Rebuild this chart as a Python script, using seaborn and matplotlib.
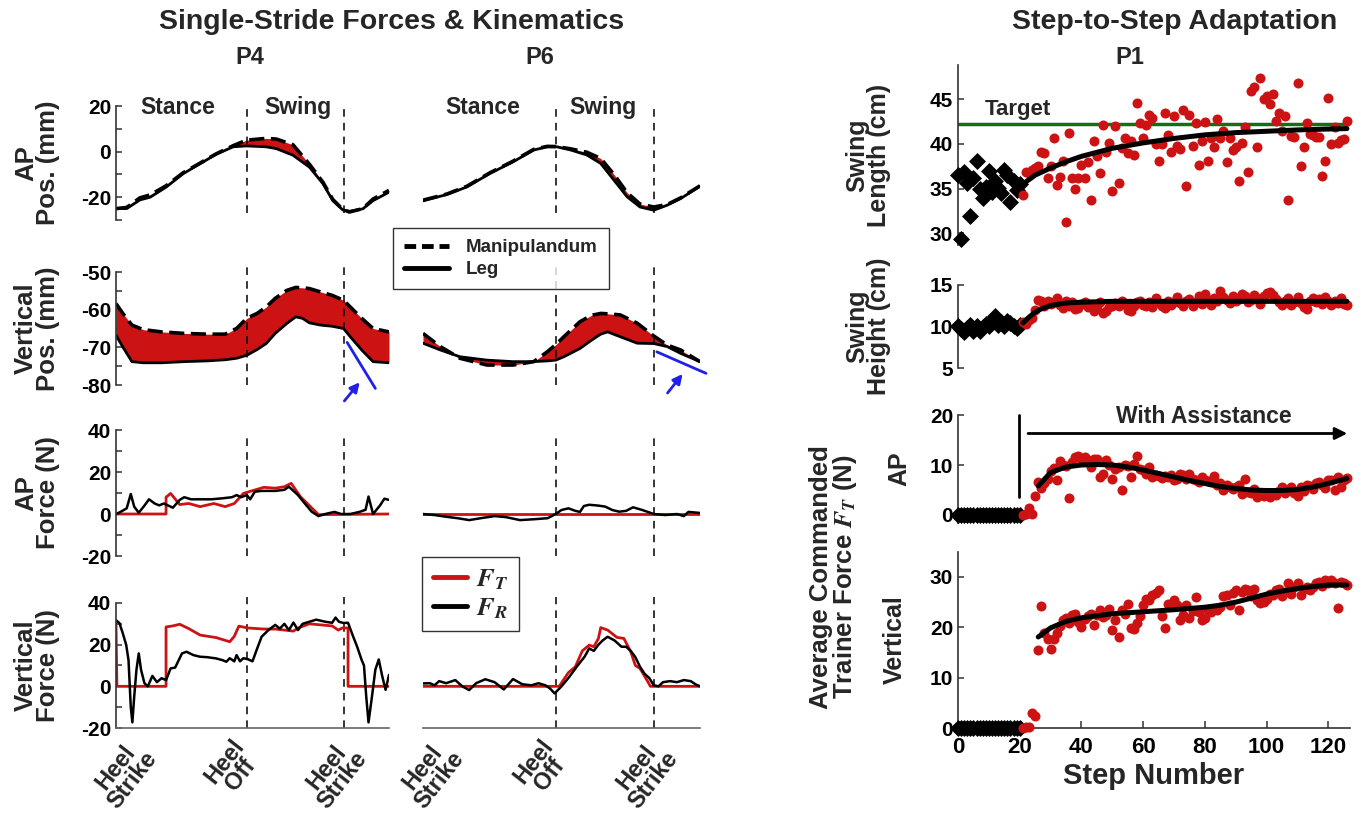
import numpy as np
import matplotlib
matplotlib.use("Agg")
import matplotlib.pyplot as plt
import matplotlib.transforms as mtransforms
from matplotlib.lines import Line2D
import seaborn as sns

# ---------------- data: single stride (x in % of stride) ----------------
p4_ap_x = [0, 4.7, 10.5, 15, 22, 29.5, 37, 44, 51.5, 57.3, 66, 70.5, 77.8, 85, 91, 95.3, 99.7, 102.6, 108.5, 113, 120]
p4_ap_leg = [-24.9, -25, -21.2, -20, -15.6, -9.7, -5.3, -1.2, 2.1, 2.5, 2.1, 1.3, -1.6, -6.8, -14.1, -21.5, -25.6, -26.2, -25.1, -21.5, -17.8]
p4_ap_man = [-25, -24.5, -20.3, -19, -15, -9.3, -5, -1, 2.6, 5, 5.8, 5.5, 3.0, -5.5, -13.5, -21, -25.4, -26.5, -25, -20.8, -17]

p4_vt_x = [0, 3, 7, 12, 20, 30, 40, 48, 53, 57.5, 62, 66, 70, 75, 79, 82, 85, 90, 95, 100, 103, 108, 113, 120]
p4_vt_man = [-58.4, -61, -64.1, -65.3, -65.9, -66.3, -66.5, -66.5, -65, -62.3, -61, -59.3, -57, -54.9, -54.1, -54.2, -54.4, -55.3, -56.2, -57.5, -59.3, -62.3, -65, -65.9]
p4_vt_leg = [-66.8, -69.9, -73.8, -74.1, -74.1, -73.8, -73.6, -73.3, -72.9, -72.1, -70.6, -69, -66.3, -63.7, -61.9, -62.3, -63.5, -64.1, -64.4, -65, -67.2, -70.7, -73.8, -74.1]

p6_ap_x = [0, 10.4, 19, 29, 39, 48, 53.8, 58, 64, 71, 77, 82.7, 88.4, 94, 100, 105.8, 111.6, 120]
p6_ap_leg = [-21.6, -18.8, -15.5, -9.6, -4.5, 0.7, 2.1, 2.1, 0.7, -1.5, -5.2, -12.5, -19.8, -24.3, -25.7, -23.5, -20.6, -15.2]
p6_ap_man = [-21.3, -18.6, -15.2, -9.3, -4.2, 1.0, 2.3, 2.2, 1.2, -0.3, -3.0, -10.0, -18.0, -23.0, -24.3, -23.2, -20.3, -15.0]

p6_vt_x = [0, 7.5, 16, 27.7, 39, 48, 53.8, 57.5, 61, 68, 73, 77, 80, 85.5, 92.8, 100, 105.8, 111.6, 120]
p6_vt_man = [-66.3, -69.8, -72.9, -74.7, -74.7, -73.8, -71.2, -69.3, -67.2, -63.2, -61.5, -61, -61.1, -61.4, -63.6, -67.0, -69.4, -70.7, -73.8]
p6_vt_leg = [-68.9, -70.7, -72.5, -73.4, -73.8, -73.8, -73.6, -73.4, -72.5, -70.3, -68.1, -66.5, -65.9, -67.2, -68.9, -69.0, -69.8, -71.6, -73.8]

# forces
p4_apft_x = [0, 22, 22, 24, 28, 32, 37, 43, 48, 52, 56, 60, 65, 70, 74, 77, 81, 85, 89, 120]
p4_apft = [0, 0, 8, 9.8, 4.5, 5, 3.5, 5, 3.5, 5, 9.8, 11.1, 12.7, 12.3, 13, 14.6, 8.3, 4, -0.3, 0]
p4_apfr_x = [0, 2, 4.7, 6.5, 8, 10, 12.5, 14.5, 17, 19, 21, 23, 25, 28, 30, 33, 36, 42, 47, 51, 53, 55, 57.5,
             59, 61, 64, 67, 70, 74, 76, 78, 80, 83, 86, 89, 92, 96, 99, 103, 107, 109.7, 111, 113, 116, 118, 120]
p4_apfr = [0, 1, 2.7, 9.5, 3.5, 0.6, 4, 7, 5, 4.1, 5, 4, 3, 6.7, 8, 7, 7, 7, 7.5, 8, 9, 8, 9,
           7, 10.6, 11, 11, 11, 11.5, 13, 11, 9, 5, 1.1, -1, 0, 1, 0, 0, 1, 2, 8.3, 0, 4, 7.3, 6.7]

p4_vtft_x = [0, 0.4, 22, 22, 25, 28, 32, 37, 44, 50, 52, 54, 58, 65, 70, 78, 80, 85, 90, 95, 97.7, 99.5, 102, 102, 120]
p4_vtft = [30, 0, 0, 28.5, 29, 29.8, 27.7, 24.6, 23.4, 21.4, 24, 28.9, 28, 27.5, 27.5, 26.5, 28, 30, 29.5, 29, 27, 28, 28, 0, 0]
p4_vtfr_x = [0, 1.5, 3, 4.5, 5.5, 6.5, 7.2, 8, 9, 10, 11, 12.5, 14, 16, 18, 20, 22, 24, 26, 29,
             31, 34, 37, 40, 44, 47, 48.5, 50, 52, 53, 54.5, 56, 58, 60, 62, 64, 67, 70, 72, 74,
             76, 78, 80, 82, 85, 88, 92, 95, 96.5, 98, 100, 102, 104, 106, 108, 109, 110, 111, 112.5, 114,
             115.5, 117, 118.5, 120]
p4_vtfr = [31.7, 30.4, 25.4, 19.8, 12.6, -10, -17.3, -5, 8, 15.8, 8, 1.5, 0, 5, 2, 3.9, 3, 8.6, 9, 15.8,
           16.6, 15, 14.2, 14, 13.4, 12.5, 11.8, 13.5, 12, 15, 12, 13.5, 13, 12, 18, 23.8, 27, 29.5, 27.7, 30,
           27, 30.6, 27, 30, 31, 32, 31, 30.5, 33, 31, 30.4, 30.5, 24.6, 19, 12.6, 10, -5, -17.3, -5, 8,
           12.9, 5, -1.7, 5.5]

p6_apft_x = [0, 120]
p6_apft = [0, 0]
p6_apfr_x = [0, 5, 10, 15, 20, 25, 31, 36, 42, 48, 54, 57.5, 60, 63, 66, 68, 69.7, 72, 76, 79,
             82, 85, 88, 91, 95, 100, 105, 110, 113, 115, 120]
p6_apfr = [0, -0.5, -1.3, -2, -2.9, -2, -1, -1.5, -2.9, -2.5, -2, 0, 1.9, 2.7, 1.5, 1, 3.8, 4.4, 4, 3.5,
           1.9, 1.1, 1.5, 3.2, 1.9, 0, -0.5, 0, -1, 1, 0.5]

p6_vtft_x = [0, 59, 63, 66, 69, 72, 74, 76, 77, 80, 84, 87, 90, 92, 94, 97, 98.5, 120]
p6_vtft = [0, 0, 6.6, 9.4, 17, 19.8, 19, 23, 28.2, 27, 23.5, 23, 16.6, 10, 8.6, 3, 0, 0]
p6_vtfr_x = [0, 3, 5, 7, 10, 14, 17, 20, 23, 27, 31, 35, 39, 43, 47, 50, 53, 55, 57, 60,
             63, 67, 70, 72, 74, 76, 78, 80, 83, 86, 88, 90, 92, 94, 96, 98, 100, 102, 104, 107,
             110, 113, 116, 118, 120]
p6_vtfr = [1.4, 1.5, 0.5, 2.5, 1.5, 3, 0, -1.8, 1.5, 3.4, 2, -1.5, 3.5, 1, 0.5, 1.5, 0.5, -1, -3.4, 0,
           4, 10, 14.2, 18.2, 17, 20, 22.2, 23.8, 22, 19, 19, 17, 14, 9.4, 6, 4, 0.5, 0, 2, 2.5,
           2, 3, 2.5, 1, 0]

# annotation segments (x %, mm)
p4_blue_x = [101.6, 114]
p4_blue_y = [-68.7, -80.9]
p6_blue_x = [101.3, 122.6]
p6_blue_y = [-71.2, -76.9]

stride_ticks = [0, 57.5, 100]
stride_labels = ["Heel\nStrike", "Heel\nOff", "Heel\nStrike"]

# ---------------- data: step-to-step (P1) ----------------
pre_steps = np.arange(0, 21)
post_steps = np.arange(21, 127)

len_pre = [36.5, 29.4, 36.9, 35.6, 31.9, 36.2, 38.1, 34.9, 33.9, 35.2, 37.0, 34.6, 35.8, 35.1, 34.5,
           37.1, 36.5, 33.5, 35.8, 34.8, 35.5]
len_post = [34.3, 36.9, 36.7, 37.1, 37.3, 37.5, 39.1, 39.0, 36.2, 37.5, 40.6, 35.4, 36.3, 38.1, 31.3,
            41.2, 36.2, 34.9, 36.2, 37.6, 36.2, 38.0, 33.7, 40.3, 38.6, 36.7, 42.1, 39.1, 40.1, 34.7,
            42.0, 35.6, 39.5, 40.6, 39.0, 40.3, 38.8, 44.6, 42.3, 40.6, 42.1, 43.2, 42.9, 40.0, 38.1,
            40.0, 43.4, 41.0, 39.1, 43.1, 39.7, 39.4, 43.8, 35.3, 43.2, 39.8, 42.3, 37.6, 40.3, 42.4,
            38.1, 40.7, 39.6, 42.8, 40.6, 41.4, 38.0, 40.7, 39.3, 39.6, 35.9, 40.1, 41.9, 36.8, 45.9,
            46.3, 39.6, 47.4, 45.0, 45.3, 44.4, 45.6, 42.6, 43.4, 41.4, 43.1, 33.7, 40.9,
            40.8, 46.8, 37.5, 39.6, 42.3, 41.1, 41.0, 40.8, 40.8, 36.4, 38.1, 45.1, 40.0, 41.9, 40.1,
            40.4, 40.5, 42.5]
len_fit_x = [21, 25, 30, 35, 40, 50, 60, 70, 80, 90, 100, 110, 120, 126]
len_fit = [35.5, 36.5, 37.3, 38.0, 38.6, 39.5, 40.1, 40.6, 41.0, 41.25, 41.4, 41.55, 41.65, 41.7]
target_len = 42.2

hgt_pre = [10.0, 9.7, 9.3, 9.8, 10.2, 9.5, 10.1, 9.4, 9.9, 10.3, 10.0, 10.6, 11.3, 10.2, 10.5,
           10.0, 10.6, 10.4, 10.0, 9.8, 10.2]
hgt_post = [10.5, 10.3, 10.8, 11.0, 12.0, 13.2, 13.1, 12.4, 13.1, 12.7,
            12.9, 13.4, 12.6, 12.2, 13.0, 12.4, 12.9, 12.1, 12.2, 12.7,
            12.9, 12.3, 12.6, 11.8, 12.4, 12.9, 11.6, 11.9, 12.3, 12.5,
            12.8, 12.4, 13.0, 12.7, 12.0, 11.8, 12.4, 12.9, 13.1, 12.6,
            12.5, 12.9, 12.3, 13.4, 12.8, 12.4, 12.2, 13.0, 12.6, 12.9,
            13.5, 12.8, 12.4, 13.1, 13.3, 12.5, 12.9, 13.6, 12.7, 13.9,
            13.2, 12.6, 13.4, 13.0, 14.3, 13.5, 13.2, 12.8, 13.7, 13.1,
            13.3, 13.9, 13.6, 12.9, 13.2, 13.8, 13.4, 12.7, 13.6, 14.0,
            14.1, 13.8, 13.3, 12.9, 12.6, 13.1, 13.4, 12.6, 12.9, 13.5,
            12.8, 12.3, 12.1, 13.0, 13.4, 12.9, 13.3, 12.7, 13.5, 13.0,
            12.6, 13.1, 12.8, 13.4, 12.7, 12.6]
hgt_fit_x = [21, 23, 25, 27, 30, 35, 40, 50, 60, 126]
hgt_fit = [10.4, 11.1, 11.7, 12.1, 12.5, 12.8, 12.9, 13.0, 13.0, 13.0]

apf_pre = [0] * 21
apf_post = [0.1, 0.2, 1.4, 0.3, 3.9, 6.7, 5.5, 6.5, 7.3, 8.8,
            9.5, 7.0, 10.8, 10.0, 9.9, 3.5, 10.7, 11.7, 11.9, 11.3,
            11.7, 11.0, 9.7, 11.3, 11.3, 7.7, 8.3, 11.0, 10.0, 7.3,
            9.3, 9.7, 5.0, 10.1, 9.9, 7.7, 10.3, 11.8, 9.3, 9.0,
            8.3, 9.7, 7.7, 8.0, 7.8, 7.5, 7.9, 7.7, 8.0, 7.0,
            7.3, 8.3, 8.0, 7.3, 8.3, 7.2, 7.0, 6.7, 7.7, 7.0,
            6.8, 6.7, 7.9, 6.0, 6.5, 5.0, 6.1, 5.7, 5.3, 5.7,
            6.1, 4.3, 7.3, 4.7, 4.5, 5.3, 3.7, 4.3, 3.9, 4.1,
            3.7, 4.5, 4.0, 4.8, 5.7, 4.5, 5.0, 5.7, 4.4, 3.8,
            5.6, 4.8, 6.1, 5.9, 5.2, 6.4, 6.7, 6.1, 5.5, 7.1,
            7.1, 5.1, 7.7, 5.6, 7.1, 7.4]
apf_fit_x = [26, 30, 35, 40, 45, 50, 55, 60, 65, 70, 75, 80, 85, 90, 95, 100, 105, 110, 115, 120, 126]
apf_fit = [5.8, 8.5, 9.6, 10.0, 10.1, 10.0, 9.6, 9.0, 8.3, 7.6, 6.9, 6.3, 5.7, 5.3, 5.0, 4.9, 4.9, 5.1, 5.6, 6.3, 7.3]

vtf_pre = [0] * 21
vtf_post = [0.0, 0.2, 0.3, 3.0, 2.4, 15.5, 24.3, 18.8, 17.6, 15.8,
            17.6, 18.9, 20.2, 21.4, 21.8, 20.9, 22.4, 22.7, 21.1, 20.1,
            21.6, 22.2, 22.7, 20.4, 22.4, 23.4, 22.1, 22.4, 23.7, 19.4,
            21.4, 18.1, 23.4, 22.6, 24.6, 19.8, 19.6, 20.9, 22.2, 24.4,
            25.7, 25.4, 26.4, 26.8, 27.4, 22.3, 19.8, 24.7, 24.7, 25.5,
            24.4, 21.4, 22.4, 24.5, 21.8, 23.2, 26.0, 23.1, 21.4, 21.8,
            23.4, 23.1, 23.7, 23.4, 24.0, 26.2, 26.5, 24.4, 26.8, 27.4,
            23.5, 27.0, 27.7, 27.4, 26.2, 27.7, 25.4, 24.9, 25.0, 25.7,
            26.7, 26.4, 27.4, 27.7, 26.2, 27.0, 28.7, 26.7, 28.0, 28.7,
            26.4, 27.7, 28.0, 27.4, 28.0, 28.7, 29.0, 28.2, 29.3, 28.7,
            29.3, 28.7, 23.8, 29.0, 28.7, 28.4]
vtf_fit_x = [26, 30, 35, 40, 50, 60, 70, 80, 85, 90, 95, 100, 105, 110, 115, 120, 126]
vtf_fit = [18.1, 19.9, 21.2, 21.9, 22.7, 23.1, 23.5, 24.0, 24.4, 25.0, 25.8, 26.6, 27.2, 27.7, 28.1, 28.4, 28.4]

# ---------------- style ----------------
sns.set_theme(style="white")
plt.rcParams["font.family"] = ["Liberation Sans", "DejaVu Sans"]
plt.rcParams["font.weight"] = "bold"
plt.rcParams["axes.labelweight"] = "bold"
plt.rcParams["axes.unicode_minus"] = False
plt.rcParams["mathtext.fontset"] = "stix"
plt.rcParams["xtick.direction"] = "in"
plt.rcParams["ytick.direction"] = "in"

RED = "#cc1212"
BLUE = "#2020e6"
GREEN = "#127012"
SPINE = "#333333"
W, H = 1365, 813

fig = plt.figure(figsize=(13.65, 8.13), dpi=100)


def px_axes(x0, w, top, bottom):
    return fig.add_axes([x0 / W, 1 - bottom / H, w / W, (bottom - top) / H])


def line(ax, x, y, **kw):
    sns.lineplot(x=x, y=y, ax=ax, sort=False, estimator=None, **kw)


cols = [(116, 273, True), (423, 277, False)]
rows = [(106, 220), (272, 385), (430, 556), (603, 728)]
vline_span = [(0.06, 0.98), (0.0, 1.08), (0.0, 0.95), (0.0, 1.05)]
row_ylim = [(-30, 20), (-80, -50), (-20, 40), (-20, 40)]
row_major = [[-20, 0, 20], [-80, -70, -60, -50], [-20, 0, 20, 40], [-20, 0, 20, 40]]
row_minor = [[-30, -10, 10], [-75, -65, -55], [-10, 10, 30], [-10, 10, 30]]
row_labels = ["AP\nPos. (mm)", "Vertical\nPos. (mm)", "AP\nForce (N)", "Vertical\nForce (N)"]
label_shift_px = [8, -14, -9]

pos_data = [
    [(p4_ap_x, p4_ap_man, p4_ap_leg), (p4_vt_x, p4_vt_man, p4_vt_leg)],
    [(p6_ap_x, p6_ap_man, p6_ap_leg), (p6_vt_x, p6_vt_man, p6_vt_leg)],
]
force_data = [
    [(p4_apft_x, p4_apft, p4_apfr_x, p4_apfr), (p4_vtft_x, p4_vtft, p4_vtfr_x, p4_vtfr)],
    [(p6_apft_x, p6_apft, p6_apfr_x, p6_apfr), (p6_vtft_x, p6_vtft, p6_vtfr_x, p6_vtfr)],
]
blues = [(p4_blue_x, p4_blue_y), (p6_blue_x, p6_blue_y)]

for c, (x0, w, show_y) in enumerate(cols):
    for r, (top, bottom) in enumerate(rows):
        ax = px_axes(x0, w, top, bottom)
        if r < 2:
            x, man, leg = pos_data[c][r]
            ax.fill_between(x, man, leg, color=RED, lw=0)
            line(ax, x, leg, color="black", lw=2.0)
            line(ax, x, man, color="black", lw=2.6, dashes=(4.2, 1.8))
        else:
            ftx, ft, frx, fr = force_data[c][r - 2]
            line(ax, ftx, ft, color=RED, lw=2.0)
            line(ax, frx, fr, color="black", lw=1.8)
        for xv in [57.5, 100]:
            ax.axvline(xv, ymin=vline_span[r][0], ymax=vline_span[r][1], color="black",
                       lw=1.1, dashes=(5, 4), clip_on=False, zorder=1)
        ax.set_xlim(0, 120)
        ax.set_ylim(*row_ylim[r])
        ax.set_xlabel("")
        ax.set_ylabel("")
        for s in ["top", "right"]:
            ax.spines[s].set_visible(False)
        ax.spines["left"].set_visible(show_y)
        ax.spines["left"].set_color(SPINE)
        ax.spines["left"].set_linewidth(1.2)
        if show_y:
            ax.set_yticks(row_major[r])
            ax.set_yticks(row_minor[r], minor=True)
            ax.tick_params(axis="y", which="both", left=True, length=4, width=1.1,
                           labelsize=15, colors=SPINE, labelcolor="black")
            ax.set_ylabel(row_labels[r], fontsize=18.5, fontweight="bold", linespacing=0.9)
            ax.yaxis.set_label_coords(-0.205, 0.5)
        else:
            ax.set_yticks([])
        if r == 3:
            ax.spines["bottom"].set_color("#666666")
            ax.spines["bottom"].set_linewidth(1.2)
            ax.set_xticks(stride_ticks)
            ax.set_xticklabels(stride_labels, rotation=52, ha="center", va="top",
                               multialignment="center", fontsize=17, linespacing=0.85)
            ax.tick_params(axis="x", bottom=True, length=0, pad=5)
            for lab, dx in zip(ax.get_xticklabels(), label_shift_px):
                lab.set_transform(lab.get_transform() +
                                  mtransforms.ScaledTranslation(dx / 100, 0, fig.dpi_scale_trans))
        else:
            ax.spines["bottom"].set_visible(False)
            ax.set_xticks([])
        if r == 0:
            stance_x, swing_x = (27, 80) if c == 0 else (26, 78)
            ax.text(stance_x, 19.5, "Stance", ha="center", va="center", fontsize=16.5)
            ax.text(swing_x, 19.5, "Swing", ha="center", va="center", fontsize=16.5)
        if r == 1:
            bx, by = blues[c]
            line(ax, bx, by, color=BLUE, lw=2.0, clip_on=False)
            tail, head = ((99.6, -84.8), (107.9, -78.7)) if c == 0 else ((105.2, -82.7), (113.2, -76.5))
            ax.annotate("", xy=head, xytext=tail,
                        arrowprops=dict(arrowstyle="-|>", color=BLUE, lw=2.0, mutation_scale=14),
                        annotation_clip=False)

# legends
leg1 = fig.legend(handles=[Line2D([], [], color="black", lw=3.5, dashes=(2.4, 1.2)),
                           Line2D([], [], color="black", lw=3.5)],
                  labels=["Manipulandum", "Leg"], loc="upper left",
                  bbox_to_anchor=(393 / W, 1 - 228 / H), borderaxespad=0, fontsize=13.5,
                  frameon=True, fancybox=False, edgecolor="black", handlelength=2.4,
                  borderpad=0.6, labelspacing=0.25, handletextpad=0.9)
leg1.get_frame().set_linewidth(1.0)
leg2 = fig.legend(handles=[Line2D([], [], color=RED, lw=3.5), Line2D([], [], color="black", lw=3.5)],
                  labels=[r"$\mathbfit{F}_{\mathbfit{T}}$", r"$\mathbfit{F}_{\mathbfit{R}}$"],
                  loc="upper left", bbox_to_anchor=(422 / W, 1 - 557 / H), borderaxespad=0,
                  fontsize=19, frameon=True, fancybox=False, edgecolor="black", handlelength=1.3,
                  borderpad=0.4, labelspacing=0.15, handletextpad=0.35)
leg2.get_frame().set_linewidth(1.0)

# ---------------- right: step-to-step ----------------
rx0, rw = 958, 392
right_rows = [(65, 245), (284.7, 368), (415, 522.5), (551.7, 728.3)]
right_ylim = [(28.7, 48.8), (5, 15), (-1.5, 20), (0, 35)]
right_ticks = [[30, 35, 40, 45], [5, 10, 15], [0, 10, 20], [0, 10, 20, 30]]
right_labels = ["Swing\nLength (cm)", "Swing\nHeight (cm)", "AP", "Vertical"]
right_label_x = [-0.17, -0.17, -0.118, -0.13]
right_data = [(len_pre, len_post, len_fit_x, len_fit), (hgt_pre, hgt_post, hgt_fit_x, hgt_fit),
              (apf_pre, apf_post, apf_fit_x, apf_fit), (vtf_pre, vtf_post, vtf_fit_x, vtf_fit)]

for r, (top, bottom) in enumerate(right_rows):
    ax = px_axes(rx0, rw, top, bottom)
    pre, post, fx, fy = right_data[r]
    sns.scatterplot(x=pre_steps, y=pre, ax=ax, marker="D", color="black", s=75,
                    linewidth=0, clip_on=False, zorder=3)
    sns.scatterplot(x=post_steps, y=post, ax=ax, color=RED, s=52, linewidth=0,
                    clip_on=False, zorder=3)
    line(ax, fx, fy, color="black", lw=3.6, zorder=4)
    ax.set_xlim(0, 127)
    ax.set_ylim(*right_ylim[r])
    ax.set_xlabel("")
    for s in ["top", "right"]:
        ax.spines[s].set_visible(False)
    ax.spines["left"].set_color(SPINE)
    ax.spines["left"].set_linewidth(1.2)
    ax.set_yticks(right_ticks[r])
    ax.tick_params(axis="y", left=True, length=4, width=1.1, labelsize=15,
                   colors=SPINE, labelcolor="black")
    ax.set_ylabel(right_labels[r], fontsize=18, fontweight="bold", linespacing=0.9)
    ax.yaxis.set_label_coords(right_label_x[r], 0.5)
    if r == 3:
        ax.spines["bottom"].set_color(SPINE)
        ax.spines["bottom"].set_linewidth(1.2)
        ax.set_xticks([0, 20, 40, 60, 80, 100, 120])
        ax.tick_params(axis="x", bottom=True, length=5, width=1.1, labelsize=16,
                       colors=SPINE, labelcolor="black", pad=6)
        ax.set_xlabel("Step Number", fontsize=21, fontweight="bold", labelpad=3)
    else:
        ax.spines["bottom"].set_visible(False)
        ax.set_xticks([])
    if r == 0:
        ax.axhline(target_len, color=GREEN, lw=2.5, zorder=2)
        ax.text(8.7, 43.8, "Target", ha="left", va="center", fontsize=16)
    if r == 2:
        ax.plot([19.8, 19.8], [3.7, 20], color="black", lw=2.0, clip_on=False)
        ax.annotate("", xy=(127, 16.3), xytext=(21.8, 16.3),
                    arrowprops=dict(arrowstyle="-|>", color="black", lw=2.0, mutation_scale=18),
                    annotation_clip=False)
        ax.text(79.5, 19.8, "With Assistance", ha="center", va="center", fontsize=16.5)

# titles and shared labels
fig.text(392 / W, 1 - 22 / H, "Single-Stride Forces & Kinematics", ha="center", va="center", fontsize=20.5)
fig.text(1175 / W, 1 - 22 / H, "Step-to-Step Adaptation", ha="center", va="center", fontsize=20.5)
fig.text(250 / W, 1 - 57 / H, "P4", ha="center", va="center", fontsize=17)
fig.text(540 / W, 1 - 57 / H, "P6", ha="center", va="center", fontsize=17)
fig.text(1130 / W, 1 - 58 / H, "P1", ha="center", va="center", fontsize=17)
fig.text(834 / W, 1 - 577 / H, "Average Commanded\nTrainer Force $\\mathit{F_T}$ (N)",
         rotation=90, ha="center", va="center", fontsize=18.5, linespacing=0.95)

fig.savefig("out.png", dpi=100)
